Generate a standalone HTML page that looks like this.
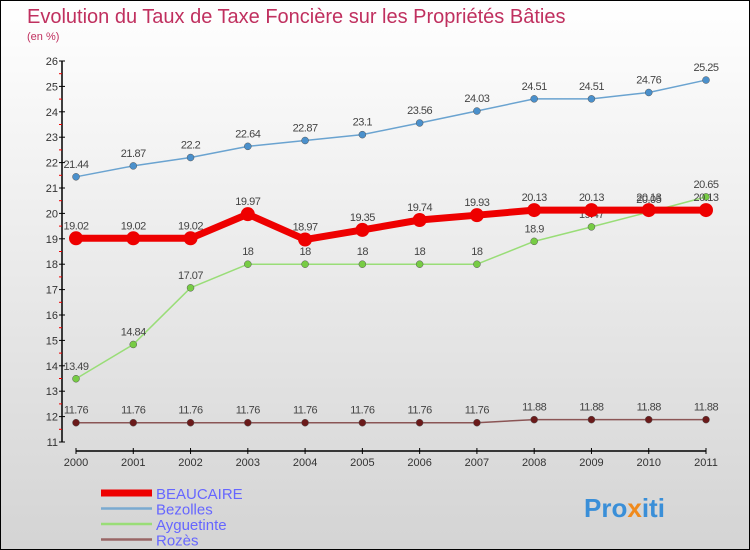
<!DOCTYPE html>
<html><head><meta charset="utf-8"><style>
body{margin:0;}
#c{width:748px;height:548px;border:1px solid #000;background:linear-gradient(#ffffff,#d4d4d4);position:relative;overflow:hidden;font-family:"Liberation Sans",sans-serif;}
</style></head><body>
<div id="c">
<svg id="s" width="748" height="548" xmlns="http://www.w3.org/2000/svg">
<text x="26" y="22" font-size="20" fill="#c0305f">Evolution du Taux de Taxe Foncière sur les Propriétés Bâties</text>
<text x="26" y="39" font-size="11" fill="#c0305f">(en %)</text>
<g id="axes"></g>
<g id="series"></g>
<g id="legend"></g>
<text x="583" y="516" font-size="26" font-weight="bold" fill="#3a8fd8">Pro<tspan fill="#f08a1c">x</tspan>iti</text>
</svg>
</div>
<script>
const years = [2000,2001,2002,2003,2004,2005,2006,2007,2008,2009,2010,2011];
const yTicks = [11,12,13,14,15,16,17,18,19,20,21,22,23,24,25,26];
const beaucaire = [19.02,19.02,19.02,19.97,18.97,19.35,19.74,19.93,20.13,20.13,20.13,20.13];
const bezolles = [21.44,21.87,22.2,22.64,22.87,23.1,23.56,24.03,24.51,24.51,24.76,25.25];
const ayguetinte = [13.49,14.84,17.07,18,18,18,18,18,18.9,19.47,20.05,20.65];
const rozes = [11.76,11.76,11.76,11.76,11.76,11.76,11.76,11.76,11.88,11.88,11.88,11.88];
const NS="http://www.w3.org/2000/svg";
function xS(i){return 75+i*(630/11);}
function yS(v){return 441-(v-11)*(381/15);}
function mk(t,a,p){const e=document.createElementNS(NS,t);for(const k in a)e.setAttribute(k,a[k]);p.appendChild(e);return e;}
const ax=document.getElementById('axes');
let l=mk('line',{x1:61,y1:60,x2:61,y2:441,stroke:'#000','stroke-width':1.5},ax);


yTicks.forEach(v=>{
  const y=yS(v);
  mk('line',{x1:58,y1:y,x2:64,y2:y,stroke:'#000'},ax);
  if(v<26) mk('line',{x1:58,y1:y-12.7,x2:61,y2:y-12.7,stroke:'#e00'},ax);
  const t=mk('text',{x:57,y:y+4,'font-size':11,fill:'#333','text-anchor':'end'},ax);
  t.textContent=v;
  
  
});
l=mk('line',{x1:75,y1:450,x2:705,y2:450,stroke:'#000','stroke-width':1.5},ax);


years.forEach((yr,i)=>{
  const x=xS(i);
  mk('line',{x1:x,y1:447,x2:x,y2:453,stroke:'#000'},ax);
  const t=mk('text',{x:x,y:465,'font-size':11,fill:'#333','text-anchor':'middle'},ax);
  t.textContent=yr;
  
  
});
const sg=document.getElementById('series');
function series(vals,name,color,lw,r,dot,fmt){
  const g=mk('g',{},sg);
  
  
  const pl=mk('polyline',{points:vals.map((v,i)=>xS(i)+','+yS(v)).join(' '),fill:'none',stroke:color,'stroke-width':lw,'stroke-linejoin':'round'},g);
  
  
  vals.forEach((v,i)=>{
    const c=mk('circle',{cx:xS(i),cy:yS(v),r:r,fill:dot,stroke:r>5?'none':'#555','stroke-width':0.5},g);
    
    
    const t=mk('text',{x:xS(i),y:yS(v)-9,'font-size':11,fill:'#444','text-anchor':'middle','letter-spacing':'-0.5'},g);
    t.textContent=String(v);
    
    
  });
}
series(rozes,'rozes','#8b5555',1.5,3.5,'#6b1a1a');
series(ayguetinte,'ayguetinte','#99dd77',1.5,3.5,'#77cc44');
series(bezolles,'bezolles','#6aa3d0',1.5,3.5,'#4a90cc');
series(beaucaire,'beaucaire','#ee0000',7,7,'#ee0000');
const lg=document.getElementById('legend');
const leg=[['BEAUCAIRE','#ee0000',7],['Bezolles','#7aaad0',2.5],['Ayguetinte','#99dd77',2.5],['Rozès','#996666',2.5]];
leg.forEach((e,i)=>{
  const y=492+i*15.5;
  const g=mk('g',{},lg);
  
  
  mk('line',{x1:100,y1:y,x2:151,y2:y,stroke:e[1],'stroke-width':e[2]},g);
  const t=mk('text',{x:155,y:y+6,'font-size':15,fill:'#6666ff'},g);
  t.textContent=e[0];
});
</script>
</body></html>
